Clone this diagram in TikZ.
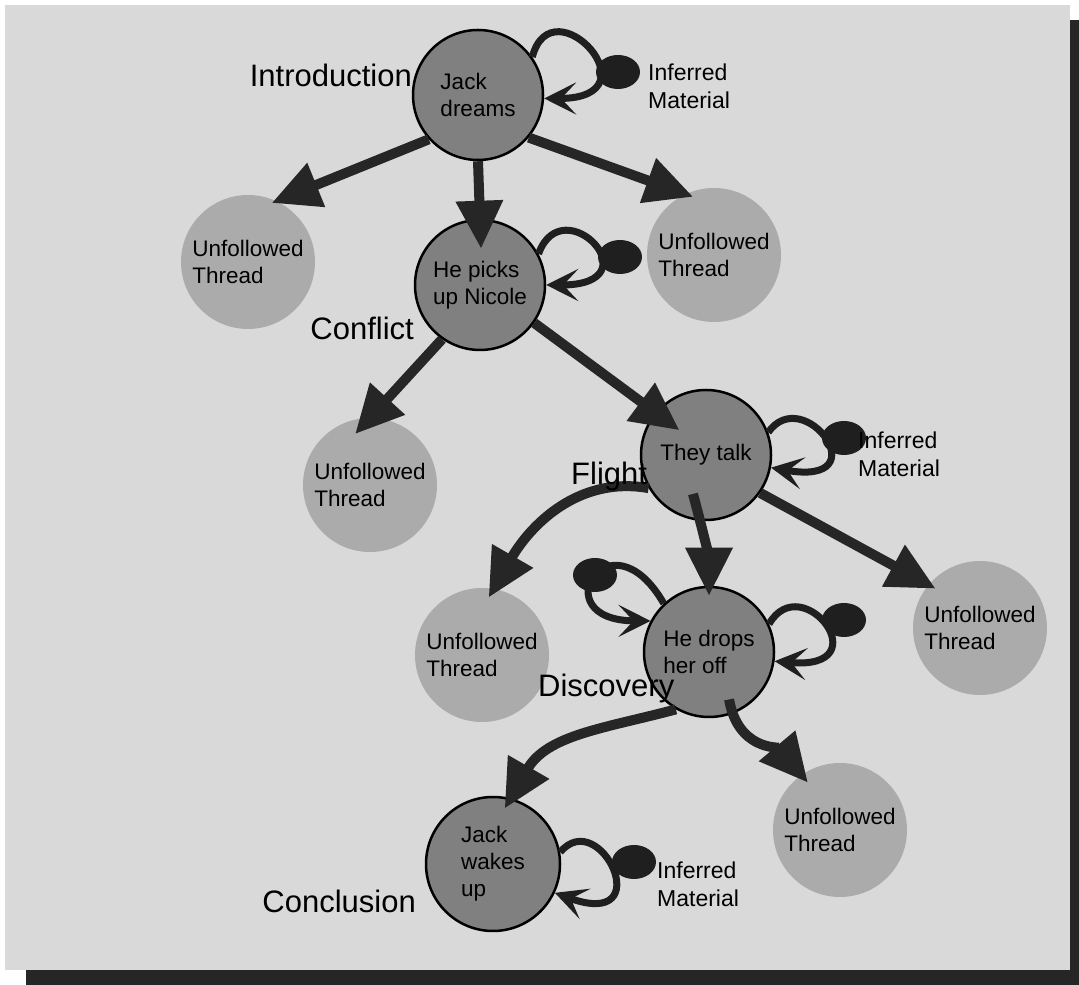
\documentclass[tikz,border=0pt]{standalone}
\usepackage{fontspec}
\setmainfont{Liberation Sans}
\usetikzlibrary{arrows.meta,calc,shapes.geometric}
\newcommand\dnodefont{\fontsize{22.5}{27}\selectfont}
\newcommand\dstagefont{\fontsize{31}{34}\selectfont}
\newcommand\dinferfont{\fontsize{23}{28}\selectfont}
\begin{document}
\begin{tikzpicture}[x=1pt,y=1pt,
  mainnode/.style={circle,draw=black,line width=2.5pt,fill=black!50,minimum size=130pt,inner sep=0pt,align=left,font=\dnodefont},
  thread/.style={circle,fill=black!33,minimum size=134pt,inner sep=0pt,align=left,font=\dnodefont},
  flow/.style={draw=black!85,line width=10pt,-{Triangle[length=48pt,width=45pt]}},
  lp/.style={draw=black!88,line width=7pt,-{Stealth[length=32pt,width=32pt,inset=15pt]}},
  blob/.style={ellipse,fill=black!88,minimum width=44pt,minimum height=34pt,inner sep=0pt},
  stage/.style={font=\dstagefont,inner sep=0pt},
  infer/.style={font=\dinferfont,align=left,anchor=west,inner sep=0pt}]
\useasboundingbox (0,0) rectangle (1079,985);
% shadow and panel
\fill[black!85] (26,0) rectangle (1079,965);
\fill[black!15] (5,15) rectangle (1070,980);

% nodes
\node[thread] (u1) at (248,723) {Unfollowed\\Thread};
\node[thread] (u2) at (714,730) {Unfollowed\\Thread};
\node[thread] (u3) at (370,500) {Unfollowed\\Thread};
\node[thread] (u4) at (482,330) {Unfollowed\\Thread};
\node[thread] (u5) at (980,357) {Unfollowed\\Thread};
\node[thread] (u6) at (840,155) {Unfollowed\\Thread};
\node[mainnode] (n1) at (478,890) {Jack\\dreams};
\node[mainnode] (n2) at (480,700) {He picks\\up Nicole};
\node[mainnode] (n3) at (706,530) {They talk};
\node[mainnode] (n4) at (709,333) {He drops\\her off};
\node[mainnode,minimum size=134pt] (n5) at (493,121) {Jack\\wakes\\up};

% flow arrows
\draw[flow,shorten >=-5pt] (n1.222) -- (u1.65);
\draw[flow,shorten >=-30pt] (n1.270) -- (n2.90);
\draw[flow,shorten >=-8pt] (n1.-40) -- (u2.115);
\draw[flow,shorten >=-22pt] (n2.235) -- (u3.90);
\draw[flow,shorten >=-30pt] (n2.-35) -- (n3.140);
\draw[flow,shorten >=-10pt] (n3.210) to[out=170,in=60] (u4.80);
\draw[flow,shorten <=-28pt,shorten >=-10pt] (n3.265) to[out=-75,in=90] (n4.90);
\draw[flow,shorten >=-8pt] (n3.-35) -- (u5.140);
\draw[flow,shorten >=-12pt] (n4.240) to[out=195,in=60] (n5.75);
\draw[flow,shorten <=-15pt,shorten >=-10pt] (n4.-70) to[out=-80,in=130] (u6.125);

% self loops
\draw[lp] (n1.35) to[out=75,in=0,out distance=78pt,in distance=115pt] (n1.-3);
\node[blob] (b1) at ($(n1)+(140,23)$) {};
\draw[lp] (n2.28) to[out=70,in=0,out distance=72pt,in distance=110pt] (n2.0);
\node[blob] (b2) at ($(n2)+(140,28)$) {};
\draw[lp] (n3.20) to[out=55,in=-10,out distance=62pt,in distance=112pt] (n3.-11);
\node[blob] (b3) at ($(n3)+(138,17)$) {};
\draw[lp] (n4.25) to[out=60,in=-5,out distance=66pt,in distance=108pt] (n4.-8);
\node[blob] (b4) at ($(n4)+(135,32)$) {};
\draw[lp] (n4.133) to[out=120,in=180,out distance=110pt,in distance=110pt] (n4.152);
\node[blob] (b5) at ($(n4)+(-114,77)$) {};
\draw[lp] (n5.10) to[out=50,in=-20,out distance=62pt,in distance=112pt] (n5.-25);
\node[blob] (b6) at ($(n5)+(141,2)$) {};

% stage labels
\node[stage,anchor=base east] (lintro) at (412,898) {Introduction};
\node[stage,anchor=base east] (lconf) at (414,645) {Conflict};
\node[stage,anchor=base west] (lflight) at (571,500) {Flight};
\node[stage,anchor=base west] (ldisc) at (538,288) {Discovery};
\node[stage,anchor=base east] (lconc) at (416,72) {Conclusion};

% inferred material labels
\node[infer] (i1) at (648,899) {Inferred\\Material};
\node[infer] (i3) at (858,531) {Inferred\\Material};
\node[infer] (i5) at (657,101) {Inferred\\Material};
\end{tikzpicture}
\end{document}
